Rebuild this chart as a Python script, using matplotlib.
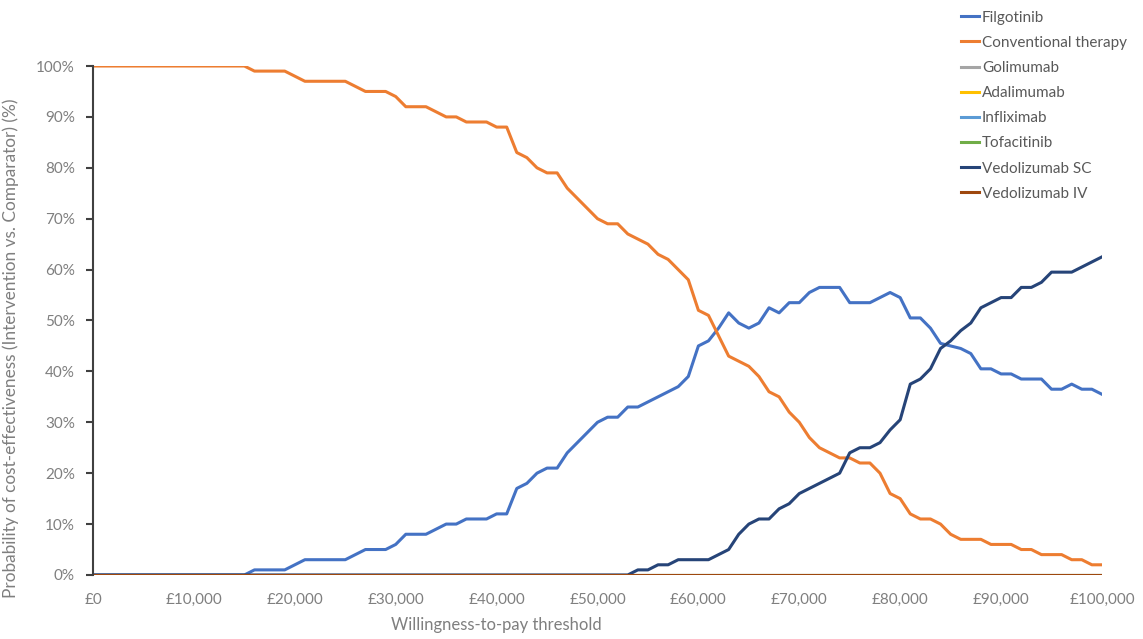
import numpy as np
import matplotlib
matplotlib.use("Agg")
import matplotlib.pyplot as plt
from matplotlib.ticker import FuncFormatter, MultipleLocator

plt.rcParams["font.family"] = ["Lato", "DejaVu Sans"]

# willingness-to-pay thresholds, £0 to £100,000 in £1,000 steps
wtp = np.arange(0, 100001, 1000)

# probability of cost-effectiveness (%)
conventional = [100] * 16 + [99] * 4 + [98] + [97] * 5 + [96] + [95] * 3 + [94] + [92] * 3 + [91] + [90] * 2 + [89] * 3 + [88] * 2 + [
    83, 82, 80, 79, 79, 76, 74, 72, 70, 69, 69, 67, 66, 65, 63, 62, 60, 58,
    52, 51, 47, 43, 42, 41, 39, 36, 35, 32, 30, 27, 25, 24, 23, 23, 22, 22,
    20, 16, 15, 12, 11, 11, 10, 8, 7, 7, 7, 6, 6, 6, 5, 5, 4, 4, 4, 3, 3, 2, 2]

filgotinib = [0] * 16 + [1] * 4 + [2] + [3] * 5 + [4] + [5] * 3 + [6] + [8] * 3 + [9] + [10] * 2 + [11] * 3 + [12] * 2 + [
    17, 18, 20, 21, 21, 24, 26, 28, 30, 31, 31, 33, 33, 34, 35, 36, 37, 39,
    45, 46, 48.5, 51.5, 49.5, 48.5, 49.5, 52.5, 51.5, 53.5, 53.5, 55.5, 56.5,
    56.5, 56.5, 53.5, 53.5, 53.5, 54.5, 55.5, 54.5, 50.5, 50.5, 48.5, 45.5,
    45, 44.5, 43.5, 40.5, 40.5, 39.5, 39.5, 38.5, 38.5, 38.5, 36.5, 36.5,
    37.5, 36.5, 36.5, 35.5]

vedolizumab_sc = [0] * 54 + [
    1, 1, 2, 2, 3, 3, 3, 3, 4, 5, 8, 10, 11, 11, 13, 14, 16, 17, 18, 19, 20,
    24, 25, 25, 26, 28.5, 30.5, 37.5, 38.5, 40.5, 44.5, 46, 48, 49.5, 52.5,
    53.5, 54.5, 54.5, 56.5, 56.5, 57.5, 59.5, 59.5, 59.5, 60.5, 61.5, 62.5]

zeros = [0] * len(wtp)
golimumab = zeros
adalimumab = zeros
infliximab = zeros
tofacitinib = zeros
vedolizumab_iv = zeros

series = [
    ("Filgotinib", filgotinib, "#4472C4"),
    ("Conventional therapy", conventional, "#ED7D31"),
    ("Golimumab", golimumab, "#A5A5A5"),
    ("Adalimumab", adalimumab, "#FFC000"),
    ("Infliximab", infliximab, "#5B9BD5"),
    ("Tofacitinib", tofacitinib, "#70AD47"),
    ("Vedolizumab SC", vedolizumab_sc, "#264478"),
    ("Vedolizumab IV", vedolizumab_iv, "#9E480E"),
]

fig = plt.figure(figsize=(11.43, 6.39), dpi=100)
ax = fig.add_axes([0.0814, 0.1002, 0.8827, 0.7965])

for name, vals, col in series:
    ax.plot(wtp, np.array(vals) / 100, color=col, lw=2.2, label=name,
            solid_joinstyle="round")

ax.set_xlim(0, 100000)
ax.set_ylim(0, 1)
ax.yaxis.set_major_locator(MultipleLocator(0.1))
ax.xaxis.set_major_locator(MultipleLocator(10000))
ax.yaxis.set_major_formatter(FuncFormatter(lambda v, p: f"{v * 100:.0f}%"))
ax.xaxis.set_major_formatter(FuncFormatter(lambda v, p: f"£{v:,.0f}"))

for s in ["top", "right", "bottom"]:
    ax.spines[s].set_visible(False)
ax.spines["left"].set_color("#404040")
ax.spines["left"].set_linewidth(1.5)
ax.tick_params(axis="y", direction="out", length=5, width=1.5, color="#404040",
               labelsize=11, labelcolor="#7F7F7F", pad=8)
ax.tick_params(axis="x", length=0, labelsize=11, labelcolor="#7F7F7F", pad=13)

ax.set_xlabel("Willingness-to-pay threshold", fontsize=12, color="#7F7F7F")
ax.set_ylabel("Probability of cost-effectiveness (Intervention vs. Comparator) (%)",
              fontsize=12.4, color="#7F7F7F")
ax.xaxis.set_label_coords(0.40, -0.083)
ax.yaxis.set_label_coords(-0.073, 0.445)

leg = fig.legend(loc="upper left", bbox_to_anchor=(0.835, 0.993), frameon=False,
                 fontsize=11, handlelength=1.2, handletextpad=0.2,
                 labelspacing=0.73, borderaxespad=0)
for t in leg.get_texts():
    t.set_color("#595959")

fig.savefig("out.png", dpi=100)
